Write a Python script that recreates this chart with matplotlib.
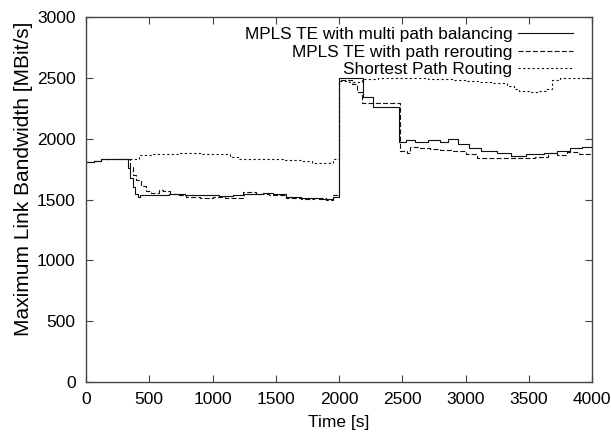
import numpy as np
import matplotlib
matplotlib.use("Agg")
import matplotlib.pyplot as plt

plt.rcParams['font.family'] = ['Liberation Sans', 'DejaVu Sans']

# MPLS TE with multi path balancing
t_multi = [0, 60, 120, 200, 300, 330, 350, 370, 390, 410, 430, 550, 660, 780, 900,
           1050, 1160, 1250, 1400, 1475, 1580, 1700, 1845, 1950, 2000, 2190, 2265,
           2475, 2530, 2600, 2700, 2800, 2860, 2940, 3030, 3125, 3250, 3360, 3480,
           3620, 3720, 3830, 3920, 4000]
v_multi = [1805, 1815, 1830, 1835, 1832, 1760, 1680, 1600, 1545, 1523, 1535, 1540,
           1545, 1535, 1540, 1525, 1535, 1545, 1555, 1545, 1520, 1515, 1505, 1520,
           2500, 2340, 2260, 1975, 1985, 1970, 1990, 1975, 1995, 1955, 1925, 1900,
           1880, 1860, 1870, 1885, 1895, 1920, 1935, 1945]

# MPLS TE with path rerouting
t_reroute = [0, 60, 120, 200, 300, 345, 370, 395, 435, 475, 515, 580, 605, 665, 720,
             790, 900, 1000, 1100, 1186, 1240, 1345, 1450, 1580, 1700, 1800, 1900,
             1950, 2000, 2100, 2140, 2180, 2480, 2535, 2560, 2640, 2720, 2800, 2900,
             3000, 3090, 3250, 3400, 3550, 3650, 3720, 3800, 3900, 4000]
v_reroute = [1805, 1815, 1830, 1835, 1832, 1770, 1700, 1660, 1610, 1570, 1555, 1575,
             1572, 1545, 1535, 1520, 1515, 1520, 1510, 1515, 1565, 1545, 1540, 1510,
             1505, 1510, 1500, 1535, 2480, 2450, 2380, 2290, 1900, 1880, 1935, 1920,
             1915, 1905, 1900, 1875, 1845, 1840, 1840, 1850, 1880, 1865, 1890, 1875,
             1885]

# Shortest Path Routing
t_short = [0, 60, 120, 200, 300, 330, 420, 530, 740, 900, 1110, 1135, 1210, 1400,
           1560, 1710, 1790, 1900, 1950, 2000, 2080, 2180, 2310, 2500, 2700, 2900,
           3000, 3100, 3200, 3330, 3380, 3420, 3500, 3570, 3640, 3680, 3750, 4000]
v_short = [1805, 1815, 1830, 1835, 1832, 1835, 1865, 1878, 1884, 1878, 1870, 1851,
           1829, 1830, 1825, 1815, 1804, 1800, 1834, 2475, 2465, 2490, 2500, 2495,
           2490, 2480, 2470, 2465, 2455, 2435, 2410, 2390, 2385, 2395, 2410, 2480,
           2495, 2500]

fig = plt.figure(figsize=(6.11, 4.34), dpi=100)
ax = fig.add_axes([86 / 611, 1 - 382 / 434, 506 / 611, 365 / 434])

ax.plot(t_multi, v_multi, drawstyle='steps-post', color='#111111', lw=0.8,
        label='MPLS TE with multi path balancing')
ax.plot(t_reroute, v_reroute, drawstyle='steps-post', color='#111111', lw=0.8,
        dashes=(4.5, 2), label='MPLS TE with path rerouting')
ax.plot(t_short, v_short, drawstyle='steps-post', color='#111111', lw=0.8,
        dashes=(2, 2.2), label='Shortest Path Routing')

ax.set_xlim(0, 4000)
ax.set_ylim(0, 3000)
ax.set_xticks(np.arange(0, 4001, 500))
ax.set_yticks(np.arange(0, 3001, 500))
ax.tick_params(direction='in', top=True, right=True, length=5, width=0.8,
               labelsize=12.5, pad=7.5, color='#444444')
for s in ax.spines.values():
    s.set_color('#444444')
    s.set_linewidth(1)

ax.set_xlabel('Time [s]', fontsize=12.5, labelpad=5.5)
ax.set_ylabel('Maximum Link Bandwidth [MBit/s]', fontsize=15)
ax.yaxis.set_label_coords(-0.105, 0.556)

ax.legend(loc='upper right', frameon=False, markerfirst=False, fontsize=12.4,
          handlelength=3.2, handletextpad=0.3, labelspacing=0.15,
          borderaxespad=0, borderpad=0, bbox_to_anchor=(0.962, 0.973))

fig.savefig('out.png', dpi=100)
